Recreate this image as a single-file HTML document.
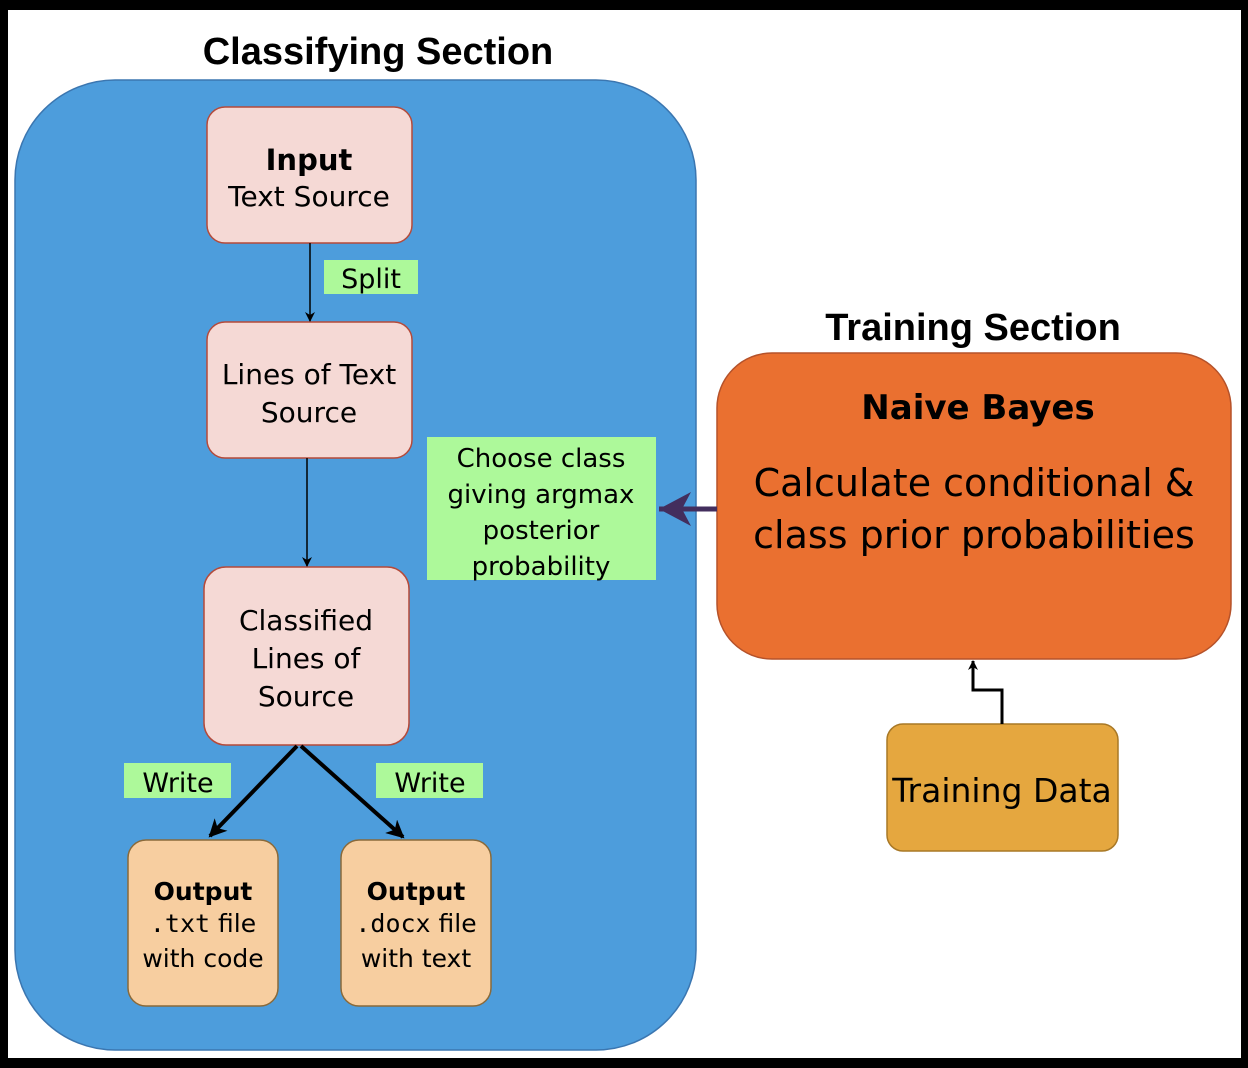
<!DOCTYPE html>
<html><head><meta charset="utf-8"><style>
html,body{margin:0;padding:0;background:#000;}
svg{display:block}
text{font-family:"DejaVu Sans",sans-serif;fill:#000}
.t{font-family:"Liberation Sans",sans-serif;font-weight:bold;font-size:38px}
.m{font-family:"DejaVu Sans Mono",monospace}
</style></head><body>
<svg width="1248" height="1068" viewBox="0 0 1248 1068" xmlns="http://www.w3.org/2000/svg">
<defs>
<marker id="a" markerWidth="10" markerHeight="10" refX="9" refY="5" orient="auto" markerUnits="userSpaceOnUse"><path d="M0,0 L10,5 L0,10 L3,5z" fill="#000"/></marker>
<marker id="b" markerWidth="18" markerHeight="18" refX="16" refY="9" orient="auto" markerUnits="userSpaceOnUse"><path d="M0,0 L18,9 L0,18 L5,9z" fill="#000"/></marker>
<marker id="c" markerWidth="34" markerHeight="34" refX="32" refY="17" orient="auto" markerUnits="userSpaceOnUse"><path d="M0,0 L32,17 L0,34 L9,17z" fill="#432e5d"/></marker>
</defs>
<rect x="8" y="10" width="1233" height="1048" fill="#fff"/>
<text class="t" x="378" y="64" text-anchor="middle">Classifying Section</text>
<text class="t" x="973" y="340" text-anchor="middle">Training Section</text>
<rect x="15" y="80" width="681" height="970" rx="100" fill="#4d9ddc" stroke="#3b76b0" stroke-width="1.5"/>
<rect x="207" y="107" width="205" height="136" rx="18" fill="#f5d9d5" stroke="#b54a3a" stroke-width="1.5"/>
<text x="309" y="170" text-anchor="middle" font-size="29" font-weight="bold">Input</text>
<text x="309" y="206" text-anchor="middle" font-size="28">Text Source</text>
<rect x="207" y="322" width="205" height="136" rx="18" fill="#f5d9d5" stroke="#b54a3a" stroke-width="1.5"/>
<text x="309" y="384" text-anchor="middle" font-size="28">Lines of Text</text>
<text x="309" y="422" text-anchor="middle" font-size="28">Source</text>
<rect x="204" y="567" width="205" height="178" rx="22" fill="#f5d9d5" stroke="#b54a3a" stroke-width="1.5"/>
<text x="306" y="630" text-anchor="middle" font-size="28">Classified</text>
<text x="306" y="668" text-anchor="middle" font-size="28">Lines of</text>
<text x="306" y="706" text-anchor="middle" font-size="28">Source</text>
<rect x="128" y="840" width="150" height="166" rx="18" fill="#f7cea0" stroke="#8a6a3a" stroke-width="1.5"/>
<text x="203" y="900" text-anchor="middle" font-size="25" font-weight="bold">Output</text>
<text x="203" y="932" text-anchor="middle" font-size="25"><tspan class="m">.txt</tspan> file</text>
<text x="203" y="967" text-anchor="middle" font-size="25">with code</text>
<rect x="341" y="840" width="150" height="166" rx="18" fill="#f7cea0" stroke="#8a6a3a" stroke-width="1.5"/>
<text x="416" y="900" text-anchor="middle" font-size="25" font-weight="bold">Output</text>
<text x="416" y="932" text-anchor="middle" font-size="25"><tspan class="m">.docx</tspan> file</text>
<text x="416" y="967" text-anchor="middle" font-size="25">with text</text>
<line x1="310" y1="243" x2="310" y2="321" stroke="#000" stroke-width="1.5" marker-end="url(#a)"/>
<line x1="307" y1="458" x2="307" y2="566" stroke="#000" stroke-width="1.5" marker-end="url(#a)"/>
<line x1="297" y1="746" x2="210" y2="836" stroke="#000" stroke-width="4" marker-end="url(#b)"/>
<line x1="301" y1="746" x2="403" y2="837" stroke="#000" stroke-width="4" marker-end="url(#b)"/>
<rect x="324" y="260" width="94" height="34" fill="#adf99a"/>
<text x="371" y="288" text-anchor="middle" font-size="27">Split</text>
<rect x="124" y="763" width="107" height="35" fill="#adf99a"/>
<text x="178" y="792" text-anchor="middle" font-size="27">Write</text>
<rect x="376" y="763" width="107" height="35" fill="#adf99a"/>
<text x="430" y="792" text-anchor="middle" font-size="27">Write</text>
<rect x="427" y="437" width="229" height="143" fill="#adf99a"/>
<text x="541" y="467" text-anchor="middle" font-size="26">Choose class</text>
<text x="541" y="503" text-anchor="middle" font-size="26">giving argmax</text>
<text x="541" y="539" text-anchor="middle" font-size="26">posterior</text>
<text x="541" y="575" text-anchor="middle" font-size="26">probability</text>
<rect x="717" y="353" width="514" height="306" rx="55" fill="#ea7030" stroke="#b5522a" stroke-width="1.5"/>
<text x="978" y="419" text-anchor="middle" font-size="34" font-weight="bold">Naive Bayes</text>
<text x="974" y="496" text-anchor="middle" font-size="38">Calculate conditional &amp;</text>
<text x="974" y="548" text-anchor="middle" font-size="38">class prior probabilities</text>
<line x1="717" y1="509" x2="659" y2="509" stroke="#432e5d" stroke-width="5" marker-end="url(#c)"/>
<rect x="887" y="724" width="231" height="127" rx="16" fill="#e5a73f" stroke="#a87826" stroke-width="1.5"/>
<text x="1002" y="802" text-anchor="middle" font-size="33">Training Data</text>
<polyline points="1002,724 1002,690 973,690 973,661" fill="none" stroke="#000" stroke-width="3" marker-end="url(#a)"/>
</svg>
</body></html>
